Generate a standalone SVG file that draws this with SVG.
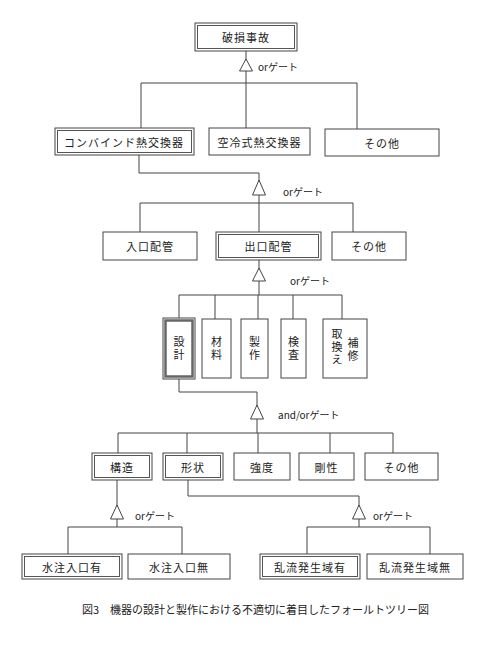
<svg xmlns="http://www.w3.org/2000/svg" width="494" height="645" viewBox="0 0 494 645">
<style>
.bg{fill:#fff}
.box{fill:#fff;stroke:#444;stroke-width:1}
.in{fill:none;stroke:#555;stroke-width:1}
.thick{fill:none;stroke:#666;stroke-width:2.5}
.t{font-family:"Noto Sans CJK JP","Noto Sans",sans-serif;font-size:11px;fill:#222;text-anchor:middle;dominant-baseline:central;letter-spacing:1px}
.v{font-family:"Noto Sans CJK JP","Noto Sans",sans-serif;font-size:11px;fill:#222;text-anchor:middle;writing-mode:vertical-rl;letter-spacing:2px}
.g{font-family:"Noto Sans CJK JP","Noto Sans",sans-serif;font-size:10px;fill:#222;dominant-baseline:central}
.cap{font-family:"Noto Sans CJK JP","Noto Sans",sans-serif;font-size:11px;fill:#222;dominant-baseline:central}
.c{fill:none;stroke:#444;stroke-width:1}
.tri{fill:#fff;stroke:#444;stroke-width:1}
</style>
<rect class="bg" width="494" height="645"/>
<g id="connectors">
<path class="c" d="M246,51V83M141,83H357M141,83V128M246,83V128M357,83V129"/>
<path class="c" d="M139,155V173H259V203M140,203H353M140,203V232M259,203V232M353,203V232"/>
<path class="c" d="M259,260V295M179,295H342M179,295V318M215,295V319M258,295V319M293,295V319M342,295V319"/>
<path class="c" d="M179,379V392H257V433M118,433H393M118,433V453M187,433V453M258,433V453M330,433V453M393,433V453"/>
<path class="c" d="M117,480V527M68,527H182M68,527V554M182,527V554"/>
<path class="c" d="M188,480V496H359V527M307,527H430M307,527V554M430,527V554"/>
<polygon class="tri" points="246,59 239.5,71 252.5,71"/>
<polygon class="tri" points="259,180 252.5,195 265.5,195"/>
<polygon class="tri" points="259,268 252.5,281 265.5,281"/>
<polygon class="tri" points="257,405 250.5,419 263.5,419"/>
<polygon class="tri" points="117,505 110.5,519 123.5,519"/>
<polygon class="tri" points="359,505 352.5,519 365.5,519"/>
<text class="g" x="258" y="66">orゲート</text>
<text class="g" x="283" y="191">orゲート</text>
<text class="g" x="290" y="280">orゲート</text>
<text class="g" x="278" y="414">and/orゲート</text>
<text class="g" x="135" y="515">orゲート</text>
<text class="g" x="373" y="515">orゲート</text>
</g>
<g id="n1"><rect class="box" x="195" y="23" width="102" height="28"/><rect class="in" x="197.5" y="25.5" width="97" height="23"/><text class="t" x="246" y="37">破損事故</text></g>
<g id="n2"><rect class="box" x="55" y="128" width="139" height="27"/><rect class="in" x="57.5" y="130.5" width="134" height="22"/><text class="t" x="124" y="141.5">コンバインド熱交換器</text></g>
<g id="n3"><rect class="box" x="209" y="128" width="101" height="27"/><text class="t" x="259.5" y="141.5">空冷式熱交換器</text></g>
<g id="n4"><rect class="box" x="325" y="129" width="114" height="27"/><text class="t" x="382" y="142.5">その他</text></g>
<g id="n5"><rect class="box" x="103" y="232" width="94" height="28"/><text class="t" x="150" y="246">入口配管</text></g>
<g id="n6"><rect class="box" x="216" y="232" width="105" height="28"/><rect class="in" x="218.5" y="234.5" width="100" height="23"/><text class="t" x="268.5" y="246">出口配管</text></g>
<g id="n7"><rect class="box" x="332" y="232" width="74" height="28"/><text class="t" x="369" y="246">その他</text></g>
<g id="n8"><rect class="box" x="163" y="318" width="32" height="61"/><rect class="thick" x="165.5" y="320.5" width="27" height="56"/><text class="v" x="179" y="349">設計</text></g>
<g id="n9"><rect class="box" x="202" y="319" width="29" height="59"/><text class="v" x="216.5" y="349">材料</text></g>
<g id="n10"><rect class="box" x="241" y="319" width="27" height="59"/><text class="v" x="254.5" y="349">製作</text></g>
<g id="n11"><rect class="box" x="281" y="319" width="25" height="59"/><text class="v" x="293.5" y="349">検査</text></g>
<g id="n12"><rect class="box" x="323" y="319" width="44" height="59"/><text class="v" x="337" y="348">取換え</text><text class="v" x="353" y="350">補修</text></g>
<g id="n13"><rect class="box" x="92" y="453" width="60" height="27"/><rect class="in" x="94.5" y="455.5" width="55" height="22"/><text class="t" x="122" y="466.5">構造</text></g>
<g id="n14"><rect class="box" x="163" y="453" width="60" height="27"/><rect class="in" x="165.5" y="455.5" width="55" height="22"/><text class="t" x="193" y="466.5">形状</text></g>
<g id="n15"><rect class="box" x="234" y="453" width="56" height="27"/><text class="t" x="262" y="466.5">強度</text></g>
<g id="n16"><rect class="box" x="299" y="453" width="55" height="27"/><text class="t" x="326.5" y="466.5">剛性</text></g>
<g id="n17"><rect class="box" x="365" y="453" width="73" height="27"/><text class="t" x="401.5" y="466.5">その他</text></g>
<g id="n18"><rect class="box" x="22" y="554" width="100" height="25"/><rect class="in" x="24.5" y="556.5" width="95" height="20"/><text class="t" x="72" y="566.5">水注入口有</text></g>
<g id="n19"><rect class="box" x="128" y="554" width="102" height="25"/><text class="t" x="179" y="566.5">水注入口無</text></g>
<g id="n20"><rect class="box" x="260" y="554" width="100" height="25"/><rect class="in" x="262.5" y="556.5" width="95" height="20"/><text class="t" x="310" y="566.5">乱流発生域有</text></g>
<g id="n21"><rect class="box" x="367" y="554" width="96" height="25"/><text class="t" x="415" y="566.5">乱流発生域無</text></g>
<text class="cap" x="82" y="609">図3　機器の設計と製作における不適切に着目したフォールトツリー図</text>
</svg>
